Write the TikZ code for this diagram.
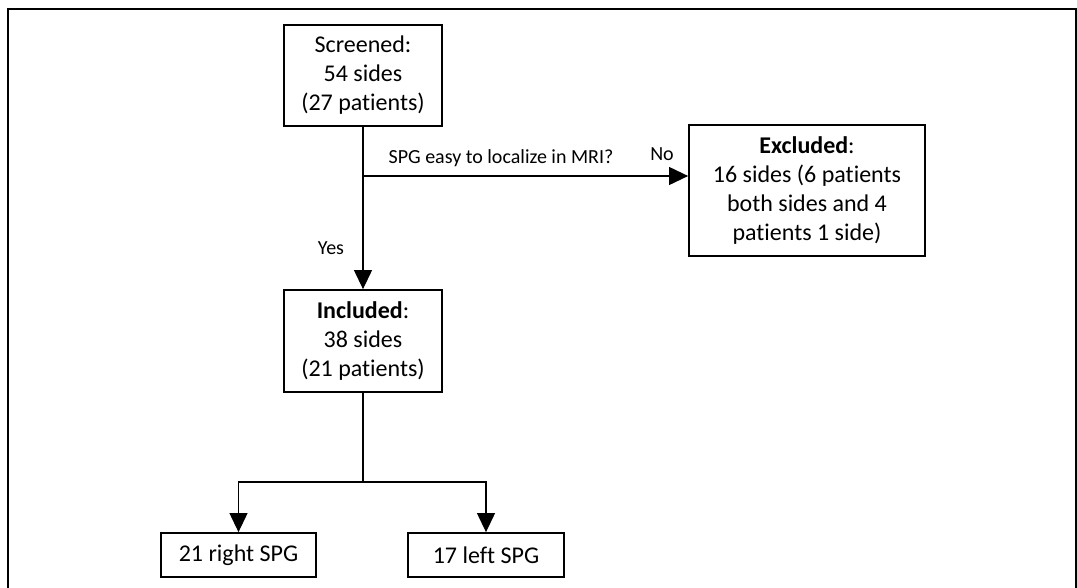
\documentclass[tikz,border=0pt]{standalone}
\usepackage{fontspec}
\setmainfont[Ligatures=NoCommon]{Carlito}
\usetikzlibrary{arrows.meta}

\tikzset{
  flowbox/.style={draw,line width=1.8pt,align=center,inner sep=0pt,font=\fontsize{24}{29}\selectfont},
  flowline/.style={line width=1.1pt},
  flowarrow/.style={flowline,-{Triangle[length=19pt,width=18pt]}},
  smalltext/.style={inner sep=0pt,font=\fontsize{20}{24}\selectfont}
}

\begin{document}
\begin{tikzpicture}[x=1pt,y=1pt,yscale=-1,xscale=1]
\useasboundingbox (0,0) rectangle (1077,587);
%Outer frame, open at the bottom
\draw [line width=2.6pt] (8,600) -- (8,9) -- (1076,9) -- (1076,600) ;

%Boxes
\node [flowbox,minimum width=158,minimum height=101] (screened) at (363,75.5) {Screened:\\54 sides\\(27 patients)};
\node [flowbox,minimum width=236,minimum height=131] (excluded) at (807,190.5) {\textbf{Excluded}:\\16 sides (6 patients\\both sides and 4\\patients 1 side)};
\node [flowbox,minimum width=158,minimum height=102] (included) at (363,341) {\textbf{Included}:\\38 sides\\(21 patients)};
\node [flowbox,minimum width=155,minimum height=44] (right) at (238.5,555) {21 right SPG};
\node [flowbox,minimum width=156,minimum height=44] (left) at (486,555) {17 left SPG};

%Connectors
\coordinate (q) at (screened.south |- 0,176);
\coordinate (split) at (included.south |- 0,482);
\draw [flowarrow] (screened) -- (included) ;
\draw [flowarrow] (q) -- (q -| excluded.west) ;
\draw [flowline] (included) -- (split) ;
\draw [flowarrow] (split) -| (left.north) ;
\draw [flowarrow] (split) -| (right.north) ;

% Text Node
\node [smalltext] (question) at (501,158) {SPG easy to localize in MRI?};
% Text Node
\node [smalltext] (no) at (662,154) {No};
% Text Node
\node [smalltext] (yes) at (331,248) {Yes};

\end{tikzpicture}
\end{document}
